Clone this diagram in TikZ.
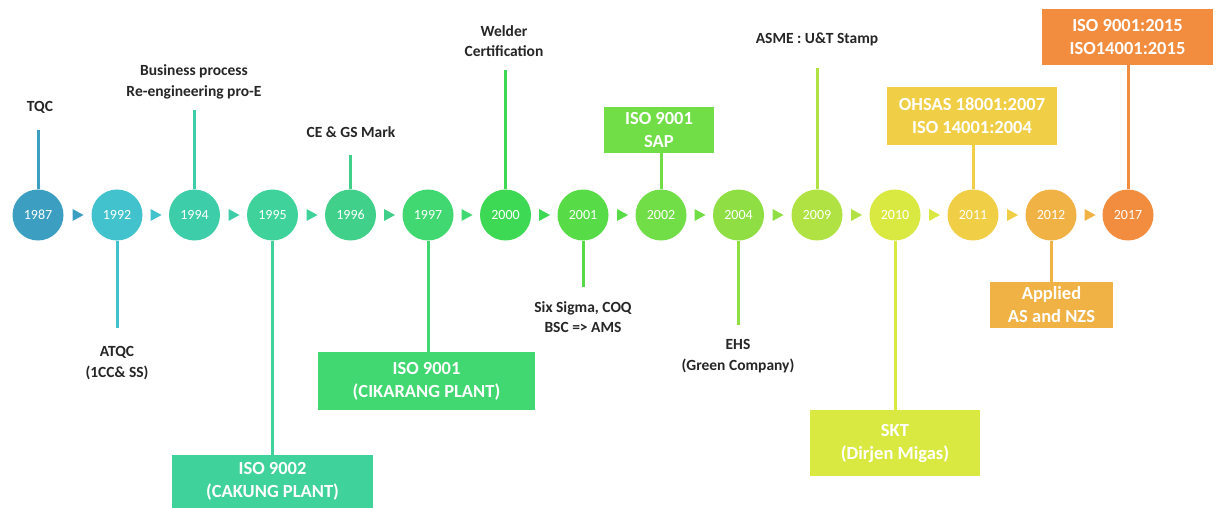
\documentclass[tikz,border=0pt]{standalone}
\usepackage{fontspec}
\setmainfont{Carlito}
\definecolor{k1987}{HTML}{3C9FC2}
\definecolor{k1992}{HTML}{42C2CC}
\definecolor{k1994}{HTML}{3ECDA9}
\definecolor{k1995}{HTML}{3FD29B}
\definecolor{k1996}{HTML}{40D08A}
\definecolor{k1997}{HTML}{41D771}
\definecolor{k2000}{HTML}{3ED954}
\definecolor{k2001}{HTML}{57DC47}
\definecolor{k2002}{HTML}{71DD47}
\definecolor{k2004}{HTML}{8EDE44}
\definecolor{k2009}{HTML}{B0E244}
\definecolor{k2010}{HTML}{DAE942}
\definecolor{k2011}{HTML}{F0CF47}
\definecolor{k2012}{HTML}{F1B245}
\definecolor{k2017}{HTML}{F28C3E}
\definecolor{labtext}{HTML}{262626}
\begin{document}
\begin{tikzpicture}[x=1pt,y=-1pt,
  yr/.style={circle,minimum size=51pt,inner sep=0pt,text=white,font=\fontsize{14}{14}\selectfont},
  lab/.style={font=\bfseries\fontsize{15.5}{20.5}\selectfont,align=center,text=labtext,inner sep=0pt},
  box/.style={font=\bfseries\fontsize{18.5}{23}\selectfont,align=center,text=white,inner sep=0pt},
  stem/.style={line width=3pt}
]
\useasboundingbox[fill=white] (0,0) rectangle (1219,508);

% year circles
\foreach \yr/\x in {1987/38,1992/117,1994/194.5,1995/272.5,1996/350.5,1997/428,2000/505.5,2001/583,2002/661,2004/738.5,2009/817,2010/895,2011/973,2012/1051,2017/1128}{
  \node[yr,fill=k\yr] (c\yr) at (\x,215) {\yr};
}

% arrow triangles
\foreach \xm/\col in {77.5/k1987,155.5/k1992,233.5/k1994,311.5/k1995,389/k1996,466.5/k1997,544/k2000,622/k2001,699.5/k2002,777.5/k2004,856/k2009,934/k2010,1012/k2011,1089.5/k2012}{
  \fill[\col] (\xm-5,209) -- (\xm+6,215) -- (\xm-5,221) -- cycle;
}

% text labels above
\node[lab] (l1987) at (40,107) {TQC};
\coordinate (s1987) at (38,130);
\draw[stem,k1987] (c1987.north) -- (s1987);

\node[lab] (l1994) at (194,82) {Business process\\Re-engineering pro-E};
\coordinate (s1994) at (194.5,110);
\draw[stem,k1994] (c1994.north) -- (s1994);

\node[lab] (l1996) at (351,132) {CE \& GS Mark};
\coordinate (s1996) at (350.5,155);
\draw[stem,k1996] (c1996.north) -- (s1996);

\node[lab] (l2000) at (504,41) {Welder\\Certification};
\coordinate (s2000) at (505.5,70);
\draw[stem,k2000] (c2000.north) -- (s2000);

\node[lab] (l2009) at (817,39) {ASME : U\&T Stamp};
\coordinate (s2009) at (817,68);
\draw[stem,k2009] (c2009.north) -- (s2009);

% text labels below
\node[lab] (l1992) at (117,363) {ATQC\\(1CC\& SS)};
\coordinate (s1992) at (117,328);
\draw[stem,k1992] (c1992.south) -- (s1992);

\node[lab] (l2001) at (583,317) {Six Sigma, COQ\\BSC => AMS};
\coordinate (s2001) at (583,287);
\draw[stem,k2001] (c2001.south) -- (s2001);

\node[lab] (l2004) at (738,356) {EHS\\(Green Company)};
\coordinate (s2004) at (738.5,325);
\draw[stem,k2004] (c2004.south) -- (s2004);

% boxes
\node[box,fill=k1995,minimum width=201pt,minimum height=53pt] (b1995) at (272.5,481.5) {ISO 9002\\(CAKUNG PLANT)};
\draw[stem,k1995] (c1995.south) -- (b1995.north);

\node[box,fill=k1997,minimum width=217pt,minimum height=58pt] (b1997) at (426.5,381) {ISO 9001\\(CIKARANG PLANT)};
\draw[stem,k1997] (c1997.south) -- (b1997.north -| c1997);

\node[box,fill=k2002,minimum width=110pt,minimum height=46pt] (b2002) at (659,130) {ISO 9001\\SAP};
\draw[stem,k2002] (c2002.north) -- (b2002.south -| c2002);

\node[box,fill=k2010,minimum width=170pt,minimum height=66pt] (b2010) at (895,443) {SKT\\(Dirjen Migas)};
\draw[stem,k2010] (c2010.south) -- (b2010.north);

\node[box,fill=k2011,minimum width=170pt,minimum height=58pt] (b2011) at (972,116) {OHSAS 18001:2007\\ISO 14001:2004};
\draw[stem,k2011] (c2011.north) -- (b2011.south -| c2011);

\node[box,fill=k2012,minimum width=123pt,minimum height=46pt] (b2012) at (1051.5,305) {Applied\\AS and NZS};
\draw[stem,k2012] (c2012.south) -- (b2012.north -| c2012);

\node[box,fill=k2017,minimum width=171pt,minimum height=56pt] (b2017) at (1127.5,37) {ISO 9001:2015\\ISO14001:2015};
\draw[stem,k2017] (c2017.north) -- (b2017.south -| c2017);
\end{tikzpicture}
\end{document}
